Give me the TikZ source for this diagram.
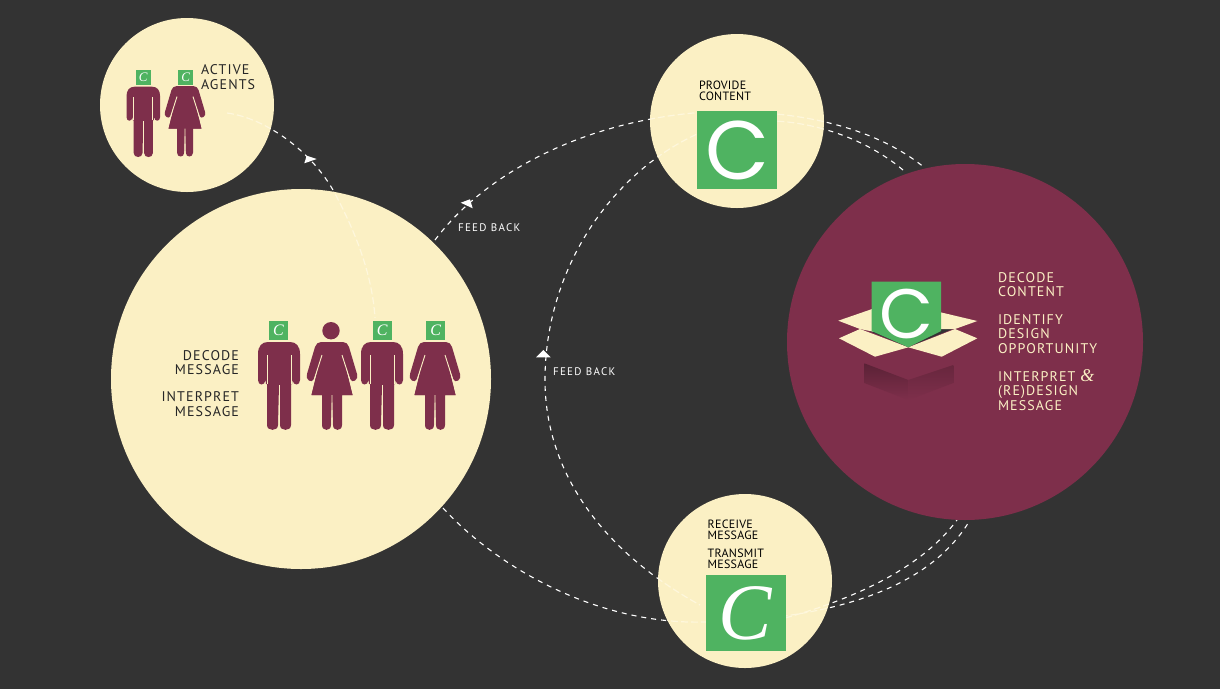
\documentclass[tikz,border=0pt]{standalone}
\usepackage{fontspec}
\setmainfont{PT Sans}
\newfontfamily\lab[LetterSpace=8]{PT Sans}
\newfontfamily\labm[LetterSpace=2]{PT Sans}
\newfontfamily\labs[LetterSpace=12]{PT Sans}
\newfontfamily\cfont{Poppins}
\newfontfamily\cital{Liberation Serif}
\definecolor{bgc}{HTML}{333333}
\definecolor{creamc}{HTML}{FBF0C4}
\definecolor{maroonc}{HTML}{7E2F4B}
\definecolor{greenc}{HTML}{4FB361}
\definecolor{faintc}{HTML}{FEF7DC}
\tikzset{
  disc/.style={circle,inner sep=0,outer sep=0,minimum size=#1},
  conn/.style={white,line width=1.1pt,dash pattern=on 5pt off 5pt},
  faint/.style={faintc,line width=1.2pt,dash pattern=on 7pt off 3pt},
  tip/.style={fill=white,draw=none},
  lblk/.style={text=#1,inner sep=0,outer sep=0,align=left,anchor=west},
  rblk/.style={text=#1,inner sep=0,outer sep=0,align=right,anchor=east},
  big/.style={font=\fontsize{14}{14.5}\lab},
  mid/.style={font=\fontsize{12}{11.5}\labm},
  small/.style={font=\fontsize{11}{11}\labs},
  chead/.style={fill=greenc,inner sep=0,outer sep=0,minimum size=#1,text=white},
  figc/.style={fill=maroonc,draw=none},
  gap/.style={creamc,line width=.9pt}
}
% scale, then position = top centre of the figure
\newcommand{\manfig}[3]{%
  \begin{scope}[shift={(#1,#2)},scale=#3]
    \path[figc] (-21,12) .. controls (-21,4) and (-17,0) .. (-11,0) -- (11,0)
      .. controls (17,0) and (21,4) .. (21,12) -- (21,38)
      .. controls (21,44) and (14,44) .. (13.5,38) -- (13,42) -- (12,42) -- (12,83)
      .. controls (12,89.5) and (1,89.5) .. (1,83) -- (0,43) -- (-1,83)
      .. controls (-1,89.5) and (-12,89.5) .. (-12,83) -- (-12,42) -- (-13,42) -- (-13.5,38)
      .. controls (-14,44) and (-21,44) .. (-21,38) -- cycle;
    \draw[gap] (-12,13) -- (-12,42) (12,13) -- (12,42) (0,43) -- (0,87);
  \end{scope}}
\newcommand{\womanfig}[3]{%
  \begin{scope}[shift={(#1,#2)},scale=#3]
    \path[figc] (-11,0) -- (11,0) .. controls (14,0) and (16,2) .. (17,5) -- (25,32)
      .. controls (27,38) and (20,42) .. (18,37) -- (13,22) -- (20.5,53) -- (10,53) -- (10,83)
      .. controls (10,89.5) and (1,89.5) .. (1,83) -- (0,53) -- (-1,83)
      .. controls (-1,89.5) and (-10,89.5) .. (-10,83) -- (-10,53) -- (-20.5,53) -- (-13,22) -- (-18,37)
      .. controls (-20,42) and (-27,38) .. (-25,32) -- (-17,5)
      .. controls (-16,2) and (-14,0) .. (-11,0) -- cycle;
    \path[figc] (-9.5,10) -- (9.5,10) -- (20.5,53) -- (-20.5,53) -- cycle;
    \draw[gap] (-10,13) -- (-18,38) (10,13) -- (18,38) (0,53) -- (0,87);
  \end{scope}}
\begin{document}
\begin{tikzpicture}[x=1pt,y=-1pt]
\useasboundingbox (0,0) rectangle (1220,689);
\fill[bgc] (0,0) rectangle (1220,689);

% free ends of the connectors
\coordinate (a1) at (227,113); \coordinate (a2) at (333,190); \coordinate (a3) at (375,318);
\coordinate (b1) at (435,240); \coordinate (b2) at (693,113); \coordinate (b3) at (925,168);
\coordinate (c1) at (903,170); \coordinate (c2) at (695,135); \coordinate (c3) at (545,380); \coordinate (c4) at (700,605);
\coordinate (d1) at (443,508); \coordinate (d2) at (705,622); \coordinate (d3) at (970,520);
\coordinate (e1) at (785,618); \coordinate (e2) at (957,520);

\newcommand{\linkA}{(a1) .. controls (265,118) and (310,150) .. (a2) .. controls (352,225) and (372,270) .. (a3)}
\newcommand{\linkB}{(b1) .. controls (480,180) and (570,125) .. (b2) .. controls (760,108) and (860,115) .. (b3)}
\newcommand{\linkC}{(c1) .. controls (850,125) and (760,105) .. (c2) .. controls (610,175) and (545,270) .. (c3) .. controls (545,470) and (600,550) .. (c4)}
\newcommand{\linkD}{(d1) .. controls (500,570) and (600,625) .. (d2) .. controls (790,620) and (920,605) .. (d3)}
\newcommand{\linkE}{(e1) .. controls (850,600) and (920,570) .. (e2)}

\draw[conn] \linkA;
\draw[conn] \linkB;
\draw[conn] \linkC;
\draw[conn] \linkD;
\draw[conn] \linkE;

% arrow tips
\fill[tip] (304.3,163.3) -- (306.7,155.7) -- (316.7,159) -- cycle;
\fill[tip] (460.7,202.7) -- (470,199.3) -- (472.7,208.3) -- cycle;
\fill[tip] (536,357.3) -- (543.3,350) -- (550.7,357.3) -- cycle;

% discs
\node[disc=174pt,fill=creamc] (agents) at (187,105) {};
\node[disc=380pt,fill=creamc] (crowd) at (301,379) {};
\node[disc=174pt,fill=creamc] (provide) at (737,121) {};
\node[disc=174pt,fill=creamc] (receive) at (745,581) {};
\node[disc=356pt,fill=maroonc] (designer) at (965,342) {};

% connectors seen through the discs
\begin{scope}\clip (agents.center) circle (87); \draw[faint] \linkA; \end{scope}
\begin{scope}\clip (crowd.center) circle (190); \draw[faint] \linkA; \end{scope}
\begin{scope}\clip (provide.center) circle (87); \draw[faint] \linkB; \draw[faint] \linkC; \end{scope}
\begin{scope}\clip (receive.center) circle (87); \draw[faint] \linkC; \draw[faint] \linkD; \draw[faint] \linkE; \end{scope}

% agents
\manfig{143.3}{86.7}{0.8}
\womanfig{185}{86.2}{0.8}
\node[chead=15pt] (h1) at (143.3,77.3) {\fontsize{13}{13}\cital\itshape C};
\node[chead=15pt] (h2) at (185.7,77.3) {\fontsize{13}{13}\cital\itshape C};
\node[lblk=black!85,big] (t1) at (201,77) {ACTIVE\\AGENTS};

% crowd
\manfig{279}{342}{1}
\womanfig{332}{342}{1}
\manfig{382}{342}{1}
\womanfig{435}{342}{1}
\fill[maroonc] (331,330.7) circle (8.7);
\node[chead=19pt] (h3) at (278.5,330) {\fontsize{16}{16}\cital\itshape C};
\node[chead=19pt] (h4) at (382.3,330) {\fontsize{16}{16}\cital\itshape C};
\node[chead=19pt] (h5) at (435.7,330) {\fontsize{16}{16}\cital\itshape C};
\node[rblk=black!85,big] (t2) at (239,362.5) {DECODE\\MESSAGE};
\node[rblk=black!85,big] (t3) at (239,404) {INTERPRET\\MESSAGE};

% provide
\node[chead=80pt,minimum height=78pt] (g1) at (736.5,150) {};
\node[text=white,inner sep=0] (c1t) at (737.7,150) {\fontsize{83}{83}\cfont C};
\node[lblk=black,mid] (t4) at (699,91) {PROVIDE\\CONTENT};

% receive
\node[chead=80pt,minimum height=76pt] (g2) at (745.8,613) {};
\node[text=white,inner sep=0] (c2t) at (745,613) {\fontsize{80}{80}\cital\itshape C};
\node[lblk=black,mid] (t5) at (707.7,530) {RECEIVE\\MESSAGE};
\node[lblk=black,mid] (t6) at (707.7,559) {TRANSMIT\\MESSAGE};

% feed back
\node[lblk=white,small] (t7) at (458,228) {FEED BACK};
\node[lblk=white,small] (t8) at (553,372) {FEED BACK};

% opened box
\shade[top color=maroonc!72!black,bottom color=maroonc] (864.3,363.3) -- (908.3,380) -- (908.3,400) -- (864.3,383) -- cycle;
\shade[top color=maroonc!82!black,bottom color=maroonc] (908.3,380) -- (953.3,365) -- (953.3,383) -- (908.3,400) -- cycle;
\fill[bgc] (862,328) -- (908,318) -- (955,328) -- (908,347) -- cycle;
\fill[creamc] (838.3,320.7) -- (875,308) -- (875,332) -- (860,329) -- cycle;
\fill[creamc] (977.3,321) -- (938,311.7) -- (938,329) -- (955,329) -- cycle;
\fill[creamc] (860,329) -- (839,338.3) -- (875,356.7) -- (908.3,347.3) -- cycle;
\fill[creamc] (955,329) -- (977.3,338.3) -- (941.7,356.7) -- (908.3,347.3) -- cycle;
\fill[greenc] (871.7,281.7) -- (941,281.7) -- (941,331) -- (908.3,347.3) -- (871.7,331) -- cycle;
\node[text=white,inner sep=0] (c3t) at (906.7,314) {\fontsize{70}{70}\cfont C};
\node[lblk=creamc,big] (t9) at (998,284.7) {DECODE\\CONTENT};
\node[lblk=creamc,big] (t10) at (998,334) {IDENTIFY\\DESIGN\\OPPORTUNITY};
\node[lblk=creamc,big] (t11) at (998,390) {INTERPRET {\cital\itshape\fontsize{18}{14.5}\selectfont\&}\\(RE)DESIGN\\MESSAGE};
\end{tikzpicture}
\end{document}
